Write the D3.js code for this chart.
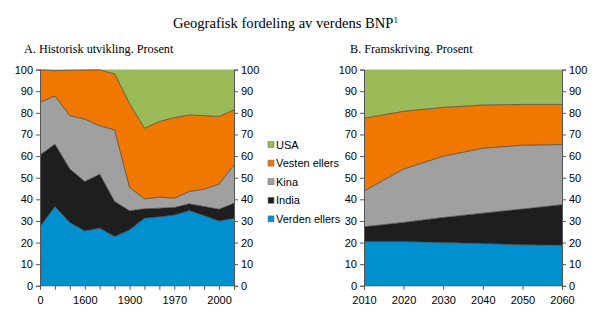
<!DOCTYPE html>
<html><head><meta charset="utf-8">
<script src="https://cdn.jsdelivr.net/npm/d3@7"></script>
<style>body{margin:0;background:#fff}svg{display:block}</style>
</head><body>
<svg id="c" width="600" height="322"></svg>
<script>
// Series (bottom to top)
const seriesNames = ["Verden ellers","India","Kina","Vesten ellers","USA"];
const seriesColors = ["#0090d0","#1e1e1e","#a0a0a0","#f07800","#9bbb59"];
// Panel A: historical, categorical years
const histYears = ["0","1000","1500","1600","1700","1820","1900","1950","1960","1970","1980","1990","2000","2008"];
const histTickLabels = ["0","1600","1900","1970","2000"];
const histVerden = [27.4,36.7,29.3,25.4,26.7,22.8,25.9,31.3,31.9,32.7,34.8,32.5,30.0,31.3];
const histIndia  = [33.1,28.8,24.7,22.8,24.9,16.2,8.8,4.3,4.0,3.5,3.1,4.2,5.4,6.9];
const histKina   = [24.3,22.3,24.7,28.9,22.4,33.1,10.8,4.6,5.1,4.3,5.7,8.0,11.6,17.7];
const histVesten = [15.1,11.7,21.0,22.7,25.9,25.9,38.8,32.7,35.0,37.3,35.4,34.0,31.3,25.5];
const histUSA    = [0.1,0.5,0.3,0.2,0.1,2.0,15.7,27.1,24.0,22.2,21.0,21.3,21.7,18.6];
// Panel B: projection
const projYears = [2010,2020,2030,2040,2050,2060];
const projVerden = [20.5,20.5,20.0,19.6,19.0,18.8];
const projIndia  = [6.8,8.8,11.6,14.0,16.5,18.7];
const projKina   = [16.5,24.7,28.3,30.0,29.5,27.8];
const projVesten = [33.7,26.7,22.6,20.0,18.9,18.6];
const projUSA    = [22.5,19.3,17.5,16.4,16.1,16.1];
const yTicks = [0,10,20,30,40,50,60,70,80,90,100];

const svg = d3.select("#c");
const sans = "Liberation Sans, Arial, sans-serif";
const serif = "Liberation Serif, Times New Roman, serif";

const title = svg.append("text").attr("x",173).attr("y",28)
  .attr("font-family",serif).attr("font-size",14.6).attr("fill","#000");
title.append("tspan").text("Geografisk fordeling av verdens BNP");
title.append("tspan").attr("font-size",9).attr("dy",-5).text("1");

function buildRows(xs, arrs){
  return xs.map((x,i)=>{const r={x:x}; seriesNames.forEach((n,j)=>r[n]=arrs[j][i]); return r;});
}

function panel(opts){
  const g = svg.append("g");
  const y = d3.scaleLinear().domain([0,100]).range([285.8,69.6]);
  const x = opts.x;
  const rows = buildRows(opts.xs, opts.arrs);
  const stack = d3.stack().keys(seriesNames)(rows);
  const area = d3.area().x(d=>x(d.data.x)).y0(d=>y(d[0])).y1(d=>y(d[1]));
  const line = d3.line().x(d=>x(d.data.x)).y(d=>y(d[1]));
  g.selectAll("path.a").data(stack).join("path").attr("class","a")
    .attr("d",area).attr("fill",(d,i)=>seriesColors[i]);
  g.selectAll("path.l").data(stack.slice(0,4)).join("path").attr("class","l")
    .attr("d",line).attr("fill","none").attr("stroke","#3a3a3a").attr("stroke-width",0.7);
  const [x0,x1] = x.range();
  const yl = g.append("g").attr("transform",`translate(${x0},0)`)
    .call(d3.axisLeft(y).tickValues(yTicks).tickSize(4).tickPadding(3));
  const yr = g.append("g").attr("transform",`translate(${x1},0)`)
    .call(d3.axisRight(y).tickValues(yTicks).tickSize(4).tickPadding(3));
  const xa = g.append("g").attr("transform",`translate(0,${y(0)})`)
    .call(opts.xAxis);
  [yl,yr,xa].forEach(a=>{
    a.selectAll("path").attr("stroke","#555").attr("stroke-width",1);
    a.selectAll("line").attr("stroke","#555");
    a.selectAll("text").attr("font-family",sans).attr("font-size",11).attr("fill","#000");
  });
  xa.selectAll("path").remove();
  g.append("line").attr("x1",x0).attr("x2",x1).attr("y1",y(0)).attr("y2",y(0)).attr("stroke","#555");
  g.append("text").attr("x",opts.subX).attr("y",53).attr("font-family",serif)
    .attr("font-size",12.2).text(opts.sub);
}

const xh = d3.scalePoint().domain(histYears).range([40,234]);
panel({
  x: xh, xs: histYears,
  arrs:[histVerden,histIndia,histKina,histVesten,histUSA],
  sub:"A. Historisk utvikling. Prosent", subX:24,
  xAxis: a=>{
    a.call(d3.axisBottom(xh).tickValues(histYears).tickSize(4).tickPadding(6)
      .tickFormat(d=>histTickLabels.includes(d)?d:""));
  }
});

const xp = d3.scaleLinear().domain([2010,2060]).range([364,562]);
panel({
  x: xp, xs: projYears,
  arrs:[projVerden,projIndia,projKina,projVesten,projUSA],
  sub:"B. Framskriving. Prosent", subX:350,
  xAxis: a=>{
    a.call(d3.axisBottom(xp).tickValues(projYears).tickSize(4).tickPadding(6)
      .tickFormat(d3.format("d")));
  }
});

// Legend (top to bottom: USA ... Verden ellers)
const legendOrder = seriesNames.slice().reverse();
const lg = svg.append("g").attr("transform","translate(268,145)");
legendOrder.forEach((n,i)=>{
  const row = lg.append("g").attr("transform",`translate(0,${i*18.6})`);
  row.append("rect").attr("x",0).attr("y",-3.5).attr("width",6).attr("height",6)
    .attr("fill",seriesColors[seriesNames.indexOf(n)]).attr("stroke","#777").attr("stroke-width",0.6);
  row.append("text").attr("x",8).attr("y",3.5).attr("font-family",sans)
    .attr("font-size",11).text(n);
});
</script>
</body></html>
